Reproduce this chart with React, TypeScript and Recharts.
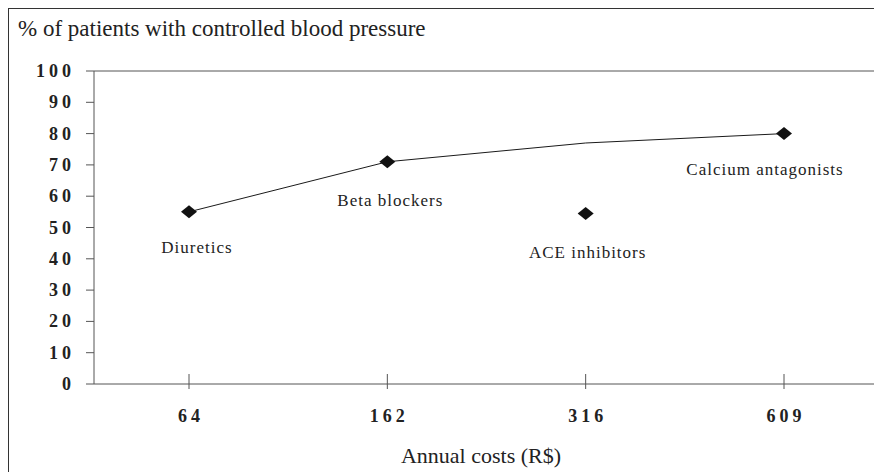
import React from 'react';
import { ComposedChart, Line, XAxis, YAxis, ReferenceLine, LabelList } from 'recharts';

// annual cost categories (R$) and % of patients with controlled BP
const costs = ['64', '162', '316', '609'];
const drugNames = ['Diuretics', 'Beta blockers', 'ACE inhibitors', 'Calcium antagonists'];
const drugControlled = [55, 71, 54.5, 80];
const frontierControlled = [55, 71, 77, 80];
const yTicks = [0, 10, 20, 30, 40, 50, 60, 70, 80, 90, 100];

// where each drug name sits relative to its marker
const labelOffsets = [
  { dx: 8, dy: 41 },
  { dx: 3, dy: 44 },
  { dx: 2, dy: 45 },
  { dx: -19, dy: 41 },
];

const SERIF = "'Liberation Serif', Tinos, 'Times New Roman', Times, 'DejaVu Serif', serif";
const AXIS = '#555';

const data = costs.map((c, i) => ({
  cost: c,
  name: drugNames[i],
  drug: drugControlled[i],
  frontier: frontierControlled[i],
}));

const Diamond = (props: any) => {
  const { cx, cy } = props;
  if (cx == null || cy == null) return null;
  return <polygon points={`${cx - 8},${cy} ${cx},${cy - 6.5} ${cx + 8},${cy} ${cx},${cy + 6.5}`} fill="#111" />;
};

const YTick = (props: any) => {
  const { x, y, payload } = props;
  return (
    <text x={x + 4} y={y} dy={6} textAnchor="end" style={{ fontFamily: SERIF }} fontWeight="bold" fontSize={18} letterSpacing={4} fill="#222">
      {payload.value}
    </text>
  );
};

const XTick = (props: any) => {
  const { x, y, payload } = props;
  return (
    <g>
      <line x1={x} x2={x} y1={y - 10} y2={y + 5} stroke={AXIS} />
      <text x={x + 2} y={y + 38} textAnchor="middle" style={{ fontFamily: SERIF }} fontWeight="bold" fontSize={18} letterSpacing={4} fill="#222">
        {payload.value}
      </text>
    </g>
  );
};

const DrugLabel = (props: any) => {
  const { x, y, index, value } = props;
  const off = labelOffsets[index] || { dx: 0, dy: 40 };
  return (
    <text x={x + off.dx} y={y + off.dy} textAnchor="middle" style={{ fontFamily: SERIF }} fontSize={17} letterSpacing={1} fill="#222">
      {value}
    </text>
  );
};

export default function App() {
  return (
    <div
      style={{
        position: 'relative',
        width: 873,
        height: 463,
        borderLeft: '1px solid #333',
        borderTop: '1px solid #333',
        fontFamily: SERIF,
        overflow: 'hidden',
      }}
    >
      <div style={{ position: 'absolute', left: 9, top: 8, fontSize: 23, lineHeight: '23px', color: '#222', whiteSpace: 'nowrap' }}>
        % of patients with controlled blood pressure
      </div>
      <ComposedChart width={873} height={463} data={data} margin={{ top: 62, right: 2, left: 0, bottom: 0 }}>
        <XAxis
          dataKey="cost"
          type="category"
          height={88}
          padding={{ left: 95, right: 96 }}
          axisLine={{ stroke: AXIS }}
          tickLine={false}
          tickSize={0}
          tickMargin={0}
          tick={<XTick />}
          interval={0}
        />
        <YAxis
          yAxisId="left"
          type="number"
          domain={[0, 100]}
          ticks={yTicks}
          width={85}
          axisLine={{ stroke: AXIS }}
          tickLine={{ stroke: AXIS }}
          tickSize={8}
          tickMargin={15}
          tick={<YTick />}
          interval={0}
        />
        <YAxis yAxisId="right" orientation="right" type="number" domain={[0, 100]} width={0} tick={false} tickLine={false} axisLine={{ stroke: AXIS }} />
        <ReferenceLine yAxisId="left" y={100} stroke={AXIS} />
        <Line yAxisId="right" dataKey="frontier" stroke="none" dot={false} activeDot={false} isAnimationActive={false} />
        <Line yAxisId="left" dataKey="frontier" stroke="#1a1a1a" strokeWidth={1} dot={false} activeDot={false} isAnimationActive={false} />
        <Line yAxisId="left" dataKey="drug" stroke="none" dot={<Diamond />} activeDot={false} isAnimationActive={false}>
          <LabelList dataKey="name" content={<DrugLabel />} />
        </Line>
      </ComposedChart>
      <div style={{ position: 'absolute', left: 472, top: 436, transform: 'translateX(-50%)', fontSize: 22, lineHeight: '22px', color: '#222', whiteSpace: 'nowrap' }}>
        Annual costs (R$)
      </div>
    </div>
  );
}
